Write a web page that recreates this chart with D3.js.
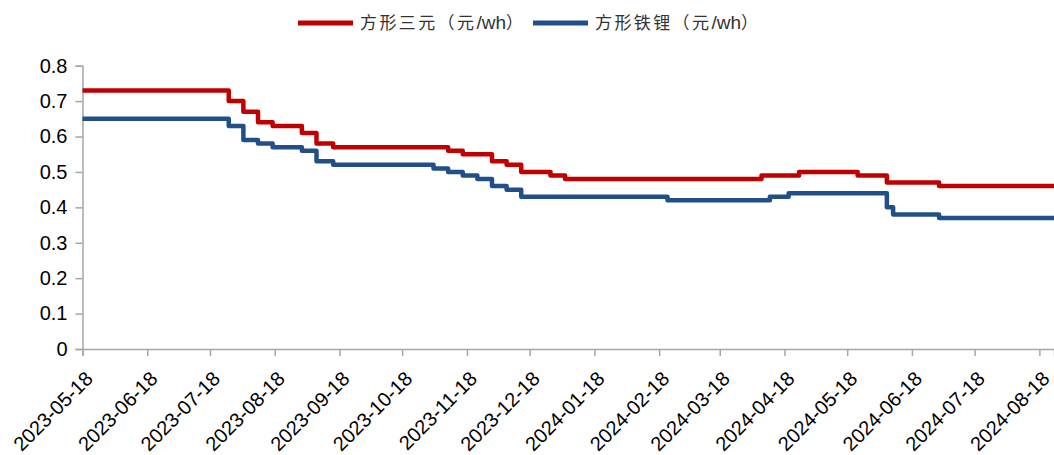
<!DOCTYPE html>
<html lang="zh">
<head>
<meta charset="UTF-8">
<title>方形电芯价格</title>
<script src="https://d3js.org/d3.v7.min.js"></script>
<style>
    body { margin: 0; background: #fff; }
    svg { display: block; }
    .axis path, .axis line { stroke: #A6A6A6; stroke-width: 1.5px; }
    .axis text { font-family: "Liberation Sans", Arial, sans-serif; font-size: 20px; fill: #000; }
    .legend text { font-family: "Noto Sans CJK SC", sans-serif; font-size: 17px; letter-spacing: 2.4px; fill: #333; }
    .legend tspan.latin { font-family: "Liberation Sans", Arial, sans-serif; font-size: 19px; letter-spacing: 0; }
</style>
</head>
<body>
<svg id="chart"></svg>
<script>
// series names
const seriesNames = ["方形三元（元/wh）", "方形铁锂（元/wh）"];

// 方形三元: dates where the price changes, and the price from that date on
const sanyuanDates = ["2023-05-18", "2023-07-27", "2023-08-03", "2023-08-10", "2023-08-17", "2023-08-31",
    "2023-09-07", "2023-09-15", "2023-11-09", "2023-11-16", "2023-11-30", "2023-12-07", "2023-12-14",
    "2023-12-28", "2024-01-04", "2024-04-07", "2024-04-25", "2024-05-23", "2024-06-06", "2024-07-01", "2024-08-25"];
const sanyuanValues = [0.73, 0.70, 0.67, 0.64, 0.63, 0.61,
    0.58, 0.57, 0.56, 0.55, 0.53, 0.52, 0.50,
    0.49, 0.48, 0.49, 0.50, 0.49, 0.47, 0.46, 0.46];

// 方形铁锂
const tieliDates = ["2023-05-18", "2023-07-27", "2023-08-03", "2023-08-10", "2023-08-17", "2023-08-31",
    "2023-09-07", "2023-09-15", "2023-11-02", "2023-11-09", "2023-11-16", "2023-11-23", "2023-11-30",
    "2023-12-07", "2023-12-14", "2024-02-22", "2024-04-11", "2024-04-20", "2024-06-06", "2024-06-09",
    "2024-07-01", "2024-08-25"];
const tieliValues = [0.65, 0.63, 0.59, 0.58, 0.57, 0.56,
    0.53, 0.52, 0.51, 0.50, 0.49, 0.48, 0.46,
    0.45, 0.43, 0.42, 0.43, 0.44, 0.40, 0.38,
    0.37, 0.37];

const xTickLabels = ["2023-05-18", "2023-06-18", "2023-07-18", "2023-08-18", "2023-09-18", "2023-10-18",
    "2023-11-18", "2023-12-18", "2024-01-18", "2024-02-18", "2024-03-18", "2024-04-18",
    "2024-05-18", "2024-06-18", "2024-07-18", "2024-08-18"];
const yTicks = [0, 0.1, 0.2, 0.3, 0.4, 0.5, 0.6, 0.7, 0.8];

const colors = ["#C00000", "#215089"];

const width = 1054, height = 455;
const margin = { top: 66, right: 0, bottom: 106, left: 82.5 };

const parse = d3.timeParse("%Y-%m-%d");
const fmt = d3.timeFormat("%Y-%m-%d");

const svg = d3.select("#chart").attr("width", width).attr("height", height);

const x = d3.scaleTime()
    .domain([parse("2023-05-18"), parse("2024-08-25")])
    .range([margin.left, width - margin.right]);

const y = d3.scaleLinear()
    .domain([0, 0.8])
    .range([height - margin.bottom, margin.top - 0.3]);

// axes
svg.append("g")
    .attr("class", "axis")
    .attr("transform", `translate(${margin.left},0)`)
    .call(d3.axisLeft(y).tickValues(yTicks).tickSize(7).tickPadding(8).tickFormat(d => String(+d.toFixed(1))));

const xAxis = svg.append("g")
    .attr("class", "axis")
    .attr("transform", `translate(0,${height - margin.bottom})`)
    .call(d3.axisBottom(x).tickValues(xTickLabels.map(parse)).tickSize(7).tickFormat(fmt));

// rotated labels, end of text sits down-right of the tick
xAxis.selectAll("text")
    .attr("text-anchor", "end")
    .attr("x", 0)
    .attr("y", 0)
    .attr("dy", 0)
    .attr("transform", "translate(11,31) rotate(-45)");

// lines
const series = [
    sanyuanDates.map((d, i) => ({ date: parse(d), value: sanyuanValues[i] })),
    tieliDates.map((d, i) => ({ date: parse(d), value: tieliValues[i] }))
];

const line = d3.line()
    .x(d => x(d.date))
    .y(d => y(d.value))
    .curve(d3.curveStepAfter);

svg.selectAll(".series")
    .data(series)
    .join("path")
    .attr("class", "series")
    .attr("fill", "none")
    .attr("stroke", (d, i) => colors[i])
    .attr("stroke-width", 4.5)
    .attr("stroke-linejoin", "round")
    .attr("d", line);

// legend
const legend = svg.append("g").attr("class", "legend");
const legendX = [298, 533];
seriesNames.forEach((name, i) => {
    legend.append("line")
        .attr("x1", legendX[i]).attr("x2", legendX[i] + 55)
        .attr("y1", 23).attr("y2", 23)
        .attr("stroke", colors[i])
        .attr("stroke-width", 5);
    const t = legend.append("text")
        .attr("x", legendX[i] + 62)
        .attr("y", 29);
    // latin part (/wh) without the extra spacing
    name.match(/[\x00-\x7F]+|[^\x00-\x7F]+/g).forEach(part => {
        t.append("tspan")
            .attr("class", /^[\x00-\x7F]+$/.test(part) ? "latin" : null)
            .text(part);
    });
});
</script>
</body>
</html>
